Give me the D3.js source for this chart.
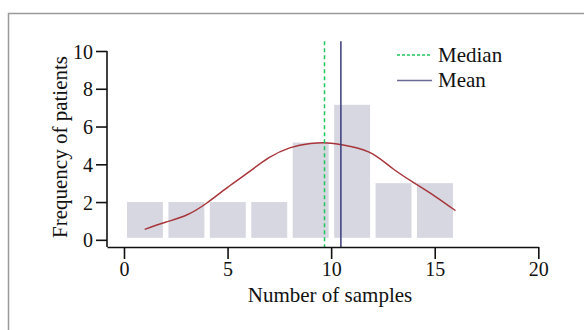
<!DOCTYPE html>
<html><head><meta charset="utf-8">
<script src="https://cdn.jsdelivr.net/npm/d3@7"></script>
<style>body{margin:0;background:#fff}svg{display:block}text{font-family:"Liberation Serif","DejaVu Serif",serif;fill:#111}</style>
</head><body><svg id="c" width="584" height="330"></svg>
<script>
const binStarts = [0, 2, 4, 6, 8, 10, 12, 14];
const binWidth = 2;
const frequencies = [2, 2, 2, 2, 5.15, 7.15, 3, 3];
const curveX = [1,2,3,4,5,6,7,8,9,10,11,12,13,14,15,16];
const curveY = [0.55,0.93,1.30,1.95,2.78,3.57,4.35,4.87,5.10,5.12,4.93,4.55,3.75,3.02,2.32,1.55];
const medianValue = 9.68;
const meanValue = 10.47;
const xTicks = [0, 5, 10, 15, 20];
const yTicks = [0, 2, 4, 6, 8, 10];
const legendLabels = ["Median", "Mean"];

const svg = d3.select("#c");
const font = 20, tfont = 21;
// panel frame
svg.append("rect").attr("x",8.5).attr("y",13.5).attr("width",600).attr("height",340)
  .attr("fill","none").attr("stroke","#9a9a9a").attr("stroke-width",1.5);

const x = d3.scaleLinear().domain([-0.82, 20]).range([107, 538.3]);
const y = d3.scaleLinear().domain([-0.38, 10]).range([247, 51]);

// bars
svg.append("g").selectAll("rect").data(binStarts).join("rect")
  .attr("x", (d)=> x(d)+3)
  .attr("width", (d)=> x(d+binWidth)-x(d)-5.5)
  .attr("y", (d,i)=> y(frequencies[i]))
  .attr("height", (d,i)=> (y(0)-2) - y(frequencies[i]))
  .attr("fill","#d6d7e0");

// curve
const pts = curveX.map((v,i)=>[v,curveY[i]]);
svg.append("path").datum(pts)
  .attr("d", d3.line().x(d=>x(d[0])).y(d=>y(d[1])).curve(d3.curveNatural))
  .attr("fill","none").attr("stroke","#a8353a").attr("stroke-width",1.5);

// median / mean
svg.append("line").attr("x1",x(medianValue)).attr("x2",x(medianValue))
  .attr("y1",y(10.52)).attr("y2",y(-0.38))
  .attr("stroke","#1ec65c").attr("stroke-width",1.5).attr("stroke-dasharray","4,3");
svg.append("line").attr("x1",x(meanValue)).attr("x2",x(meanValue))
  .attr("y1",y(10.52)).attr("y2",y(-0.38))
  .attr("stroke","#3a3a7e").attr("stroke-width",1.5);

// axes
const xAxis = svg.append("g").attr("transform","translate(0,247)")
  .call(d3.axisBottom(x).tickValues(xTicks).tickSize(12).tickSizeOuter(0).tickPadding(3));
const yAxis = svg.append("g").attr("transform","translate(107,0)")
  .call(d3.axisLeft(y).tickValues(yTicks).tickSize(11).tickSizeOuter(0).tickPadding(3));
[xAxis,yAxis].forEach(g=>{
  g.selectAll("path,line").attr("stroke","#111").attr("stroke-width",1.6);
  g.selectAll("text").style("font-family",'"Liberation Serif",serif').attr("font-size",font).attr("fill","#111");
});
yAxis.select(".domain").attr("d","M0,"+y(10)+"V247");
yAxis.selectAll("text").attr("dy","0.35em");

svg.append("text").attr("x",330).attr("y",302).attr("text-anchor","middle")
  .attr("font-size",tfont).text("Number of samples");
svg.append("text").attr("transform","translate(67,147) rotate(-90)").attr("text-anchor","middle")
  .attr("font-size",tfont).text("Frequency of patients");

// legend
const lg = svg.append("g");
lg.append("line").attr("x1",397).attr("x2",432).attr("y1",55).attr("y2",55)
  .attr("stroke","#1ec65c").attr("stroke-width",1.5).attr("stroke-dasharray","3,2");
lg.append("line").attr("x1",397).attr("x2",432).attr("y1",80.5).attr("y2",80.5)
  .attr("stroke","#6a6a92").attr("stroke-width",1.5);
lg.append("text").attr("x",438).attr("y",62).attr("font-size",tfont).text(legendLabels[0]);
lg.append("text").attr("x",438).attr("y",87).attr("font-size",tfont).text(legendLabels[1]);
</script></body></html>
